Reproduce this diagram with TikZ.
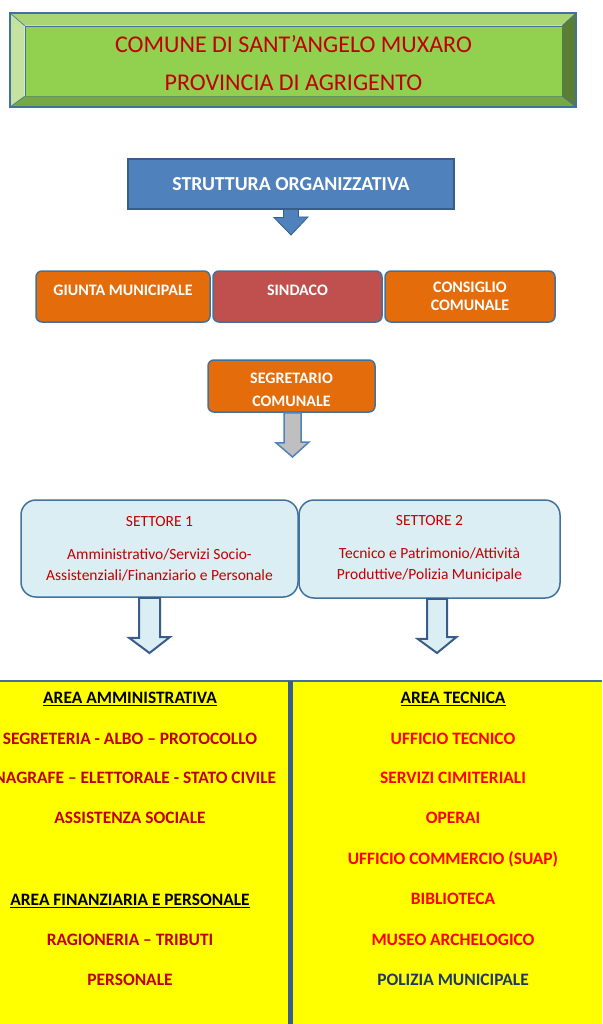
\documentclass[tikz,border=0pt]{standalone}
\usepackage{fontspec}
\setmainfont{Carlito}
\usepackage{tikz}
\usetikzlibrary{positioning,calc}

\definecolor{frameblue}{HTML}{41719C}
\definecolor{darkframe}{HTML}{385D8A}
\definecolor{facegreen}{HTML}{92D050}
\definecolor{bevtop}{HTML}{A9D574}
\definecolor{bevleft}{HTML}{C4E3A0}
\definecolor{bevbottom}{HTML}{76A843}
\definecolor{bevright}{HTML}{5A7F33}
\definecolor{titleblue}{HTML}{4F81BD}
\definecolor{boxorange}{HTML}{E46C0A}
\definecolor{boxrose}{HTML}{C0504D}
\definecolor{paleblue}{HTML}{DAEEF3}
\definecolor{darkred}{HTML}{C00000}
\definecolor{brightred}{HTML}{FF0000}
\definecolor{navy}{HTML}{1F3864}
\definecolor{arrowgrey}{HTML}{BFBFBF}
\definecolor{areayellow}{HTML}{FFFF00}

\begin{document}
\begin{tikzpicture}[
    x=1pt, y=-1pt,
    face/.style={rectangle, draw=frameblue, line width=0.6pt, fill=facegreen, minimum width=537pt, minimum height=70pt},
    banner/.style={rectangle, draw=darkframe, line width=1.2pt, fill=titleblue, minimum width=326pt, minimum height=50pt, text=white, font=\fontsize{19.8}{23}\selectfont\bfseries},
    organ/.style={rectangle, draw=frameblue, line width=1.5pt, rounded corners=6pt, minimum height=51pt, align=center, text=white, font=\fontsize{16}{18.5}\selectfont\bfseries},
    sector/.style={rectangle, draw=frameblue, line width=1.5pt, rounded corners=15pt, fill=paleblue, align=center, text=darkred, font=\fontsize{15.5}{21}\selectfont},
    office/.style={inner sep=0pt, text height=11pt, text depth=0pt, font=\fontsize{17.4}{20}\selectfont\bfseries},
    bluearrow/.style={fill=titleblue, draw=darkframe, line width=0.8pt, line join=miter},
    greyarrow/.style={fill=arrowgrey, draw=titleblue, line width=1.5pt, line join=miter},
    hollowarrow/.style={fill=paleblue, draw=darkframe, line width=2pt, line join=miter}
]
\useasboundingbox (0,0) rectangle (602,1024);

% Header
\coordinate (onw) at (10,13);
\coordinate (one) at (576,13);
\coordinate (ose) at (576,107);
\coordinate (osw) at (10,107);
\node[face] (comune) at (293.5,61) {};
\node[align=center, text=darkred, font=\fontsize{24}{38}\selectfont] (comunetext) at (293.5,63.5) {COMUNE DI SANT'ANGELO MUXARO\\PROVINCIA DI AGRIGENTO};
\fill[bevtop] (onw) -- (one) -- (comune.north east) -- (comune.north west) -- cycle;
\fill[bevleft] (onw) -- (comune.north west) -- (comune.south west) -- (osw) -- cycle;
\fill[bevbottom] (osw) -- (comune.south west) -- (comune.south east) -- (ose) -- cycle;
\fill[bevright] (one) -- (ose) -- (comune.south east) -- (comune.north east) -- cycle;
\draw[frameblue, line width=0.6pt] (onw) -- (comune.north west) (one) -- (comune.north east)
    (ose) -- (comune.south east) (osw) -- (comune.south west);
\draw[frameblue, line width=1.8pt] (onw) rectangle (ose);

% Struttura
\node[banner] (struttura) at (291,184) {STRUTTURA ORGANIZZATIVA};
\coordinate (tip0) at (291,235);
\draw[bluearrow] ([xshift=-7.5pt]struttura.south) -- ++(0,8) -- ++(-9.5,0) -- (tip0)
    -- ++(17,-18) -- ++(-9.5,0) -- ([xshift=7.5pt]struttura.south) -- cycle;

% Organi
\node[organ, fill=boxrose, minimum width=169pt, text height=8.5pt, text depth=10.5pt] (sindaco) at (297.5,296.5) {SINDACO};
\node[organ, fill=boxorange, minimum width=174pt, text height=8.5pt, text depth=10.5pt] (giunta) at (123,296.5) {GIUNTA MUNICIPALE};
\node[organ, fill=boxorange, minimum width=170pt] (consiglio) at (470,296.5) {CONSIGLIO\\COMUNALE};

% Segretario
\node[organ, fill=boxorange, minimum width=167pt, minimum height=52pt, text height=41pt, text depth=0pt, font=\fontsize{16}{23}\selectfont\bfseries] (segretario) at (291.5,386) {SEGRETARIO\\COMUNALE};
\coordinate (tip1) at (292.5,457);
\draw[greyarrow] ($(segretario.south -| tip1)+(-8.5,0)$) -- ++(0,30) -- ++(-8,0) -- (tip1)
    -- ++(16.5,-15) -- ++(-8,0) -- ($(segretario.south -| tip1)+(8.5,0)$) -- cycle;

% Settori
\node[sector, minimum width=277pt, minimum height=97pt] (settore1) at (159.5,548.5)
    {SETTORE 1\\[12pt]Amministrativo/Servizi Socio-\\Assistenziali/Finanziario e Personale};
\node[sector, minimum width=261pt, minimum height=98pt] (settore2) at (429.5,549)
    {SETTORE 2\\[12pt]Tecnico e Patrimonio/Attività\\Produttive/Polizia Municipale};
\coordinate (tipA) at (149.5,653);
\coordinate (tipB) at (437,653);
\draw[hollowarrow] ($(settore1.south -| tipA)+(-10.5,0)$) -- ++(0,40) -- ++(-10,0) -- (tipA)
    -- ++(20.5,-16) -- ++(-10,0) -- ($(settore1.south -| tipA)+(10.5,0)$) -- cycle;
\draw[hollowarrow] ($(settore2.south -| tipB)+(-10,0)$) -- ++(0,40) -- ++(-9.5,0) -- (tipB)
    -- ++(19.5,-16) -- ++(-9.5,0) -- ($(settore2.south -| tipB)+(10,0)$) -- cycle;

% Aree
\fill[areayellow] (0,681) rectangle (602,1024);
\draw[frameblue, line width=1.5pt] (0,681) -- (602,681);
\draw[darkframe, line width=4.5pt] (290.5,681) -- (290.5,1024);

\node[office] (amm) at (130,698) {\underline{AREA AMMINISTRATIVA}};
\node[office, text=darkred] (segreteria) at (130,739) {SEGRETERIA - ALBO – PROTOCOLLO};
\node[office, text=darkred] (anagrafe) at (130,778) {ANAGRAFE – ELETTORALE - STATO CIVILE};
\node[office, text=darkred] (assistenza) at (130,818) {ASSISTENZA SOCIALE};
\node[office] (fin) at (130,900) {\underline{AREA FINANZIARIA E PERSONALE}};
\node[office, text=darkred] (ragioneria) at (130,940) {RAGIONERIA – TRIBUTI};
\node[office, text=darkred] (personale) at (130,980) {PERSONALE};

\node[office] (tec) at (453,698) {\underline{AREA TECNICA}};
\node[office, text=brightred] (ufficio) at (453,739) {UFFICIO TECNICO};
\node[office, text=brightred] (cimiteri) at (453,778) {SERVIZI CIMITERIALI};
\node[office, text=brightred] (operai) at (453,818) {OPERAI};
\node[office, text=brightred] (suap) at (453,859) {UFFICIO COMMERCIO (SUAP)};
\node[office, text=brightred] (biblioteca) at (453,899) {BIBLIOTECA};
\node[office, text=brightred] (museo) at (453,940) {MUSEO ARCHELOGICO};
\node[office, text=navy] (polizia) at (453,980) {POLIZIA MUNICIPALE};

\end{tikzpicture}
\end{document}
